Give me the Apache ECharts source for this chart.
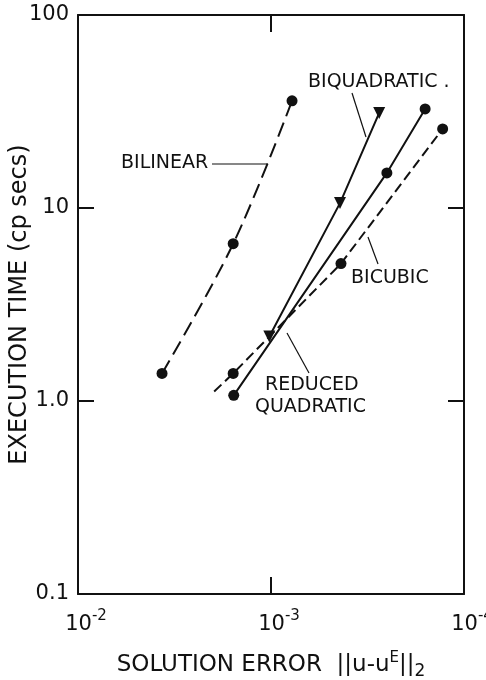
<!DOCTYPE html>
<html>
<head>
<meta charset="utf-8">
<script src="https://cdn.jsdelivr.net/npm/echarts@6/dist/echarts.min.js"></script>
<style>
html,body{margin:0;padding:0;background:#fff;}
#chart{width:486px;height:680px;}
</style>
</head>
<body>
<div id="chart"></div>
<script>
// ---- data (solution error, execution time in cp secs) ----
const bilinearErr  = [3.67e-3, 1.57e-3, 7.78e-4];
const bilinearTime = [1.39, 6.53, 35.9];

const biquadErr  = [1.02e-3, 4.39e-4, 2.75e-4];
const biquadTime = [2.16, 10.6, 31.1];

const reducedErr  = [1.56e-3, 2.51e-4, 1.59e-4];
const reducedTime = [1.07, 15.2, 32.6];

const bicubicErr    = [1.97e-3, 1.57e-3, 4.34e-4, 1.29e-4];
const bicubicTime   = [1.12, 1.39, 5.15, 25.7];
const bicubicMarked = [false, true, true, true];

const yTickLabels = {"2": "100", "1": "10", "0": "1.0", "-1": "0.1"};

const FONT = "DejaVu Sans";
const INK = "#111";

function pairs(xs, ys) { return xs.map((x, i) => [x, ys[i]]); }

const chart = echarts.init(document.getElementById('chart'), null, {renderer: 'canvas'});

const baseX = {
  type: 'log', logBase: 10, min: 1e-4, max: 1e-2, inverse: true,
  axisLine: {show: true, lineStyle: {color: INK, width: 2}},
  axisTick: {show: true, inside: true, length: 17, lineStyle: {color: INK, width: 2}},
  minorTick: {show: false}, splitLine: {show: false}
};
const baseY = {
  type: 'log', logBase: 10, min: 0.1, max: 100,
  axisLine: {show: true, lineStyle: {color: INK, width: 2}},
  axisTick: {show: true, inside: true, length: 16, lineStyle: {color: INK, width: 2}},
  minorTick: {show: false}, splitLine: {show: false}
};

const LBL = '19px "DejaVu Sans"';

const option = {
  animation: false,
  backgroundColor: '#fff',
  grid: {left: 78, right: 22, top: 15, bottom: 86, containLabel: false, outerBoundsMode: 'none'},
  xAxis: [
    Object.assign({}, baseX, {
      position: 'bottom',
      axisLabel: {
        show: true, margin: 15, hideOverlap: false,
        formatter: function (v) {
          const e = Math.round(Math.log10(v));
          return '{b|10}{s|' + e + '}';
        },
        rich: {
          b: {fontFamily: FONT, fontSize: 21, color: INK, padding: [0, 0, 0, 16]},
          s: {fontFamily: FONT, fontSize: 15, color: INK, padding: [0, 0, 16, 0]}
        }
      },
      name: '{t|SOLUTION ERROR  ||u-u}{s|E}{t|||}{d|2}',
      nameLocation: 'middle',
      nameMoveOverlap: false,
      nameGap: 57,
      nameTextStyle: {
        rich: {
          t: {fontFamily: FONT, fontSize: 23, color: INK},
          s: {fontFamily: FONT, fontSize: 15, color: INK, padding: [0, 0, 14, 0]},
          d: {fontFamily: FONT, fontSize: 17, color: INK, padding: [12, 0, 0, 0]}
        }
      }
    }),
    Object.assign({}, baseX, {position: 'top', axisLabel: {show: false}})
  ],
  yAxis: [
    Object.assign({}, baseY, {
      position: 'left',
      axisLabel: {
        show: true, margin: 9, fontFamily: FONT, fontSize: 21, color: INK, hideOverlap: false,
        formatter: function (v) {
          const e = Math.round(Math.log10(v));
          return yTickLabels[String(e)] || '';
        }
      },
      name: 'EXECUTION TIME (cp secs)',
      nameLocation: 'middle',
      nameMoveOverlap: false,
      nameGap: 46,
      nameTextStyle: {fontFamily: FONT, fontSize: 24, color: INK}
    }),
    Object.assign({}, baseY, {position: 'right', axisLabel: {show: false}})
  ],
  series: [
    {
      name: 'BILINEAR', type: 'line', smooth: 0.35,
      data: pairs(bilinearErr, bilinearTime),
      symbol: 'circle', symbolSize: 11,
      itemStyle: {color: INK},
      lineStyle: {color: INK, width: 2, type: [15, 7]}
    },
    {
      name: 'BIQUADRATIC', type: 'line',
      data: pairs(biquadErr, biquadTime),
      symbol: 'triangle', symbolRotate: 180, symbolSize: 12,
      itemStyle: {color: INK},
      lineStyle: {color: INK, width: 2}
    },
    {
      name: 'REDUCED QUADRATIC', type: 'line',
      data: pairs(reducedErr, reducedTime),
      symbol: 'circle', symbolSize: 11,
      itemStyle: {color: INK},
      lineStyle: {color: INK, width: 2}
    },
    {
      name: 'BICUBIC', type: 'line',
      data: bicubicErr.map((e, i) => ({
        value: [e, bicubicTime[i]],
        symbol: bicubicMarked[i] ? 'circle' : 'none'
      })),
      symbol: 'circle', symbolSize: 11,
      itemStyle: {color: INK},
      lineStyle: {color: INK, width: 2, type: [10, 5]}
    }
  ],
  graphic: [
    // labels
    {type: 'text', left: 121, top: 154, style: {text: 'BILINEAR', font: LBL, fill: INK}},
    {type: 'text', left: 308, top: 73, style: {text: 'BIQUADRATIC .', font: LBL, fill: INK}},
    {type: 'text', left: 351, top: 269, style: {text: 'BICUBIC', font: LBL, fill: INK}},
    {type: 'text', left: 265, top: 376, style: {text: 'REDUCED', font: LBL, fill: INK}},
    {type: 'text', left: 255, top: 398, style: {text: 'QUADRATIC', font: LBL, fill: INK}},
    // leader lines
    {type: 'line', shape: {x1: 212, y1: 164, x2: 268, y2: 164}, style: {stroke: INK, lineWidth: 1.2}},
    {type: 'line', shape: {x1: 352, y1: 93, x2: 366, y2: 137}, style: {stroke: INK, lineWidth: 1.2}},
    {type: 'line', shape: {x1: 378, y1: 264, x2: 368, y2: 237}, style: {stroke: INK, lineWidth: 1.2}},
    {type: 'line', shape: {x1: 309, y1: 373, x2: 287, y2: 333}, style: {stroke: INK, lineWidth: 1.2}}
  ]
};

chart.setOption(option);
</script>
</body>
</html>
